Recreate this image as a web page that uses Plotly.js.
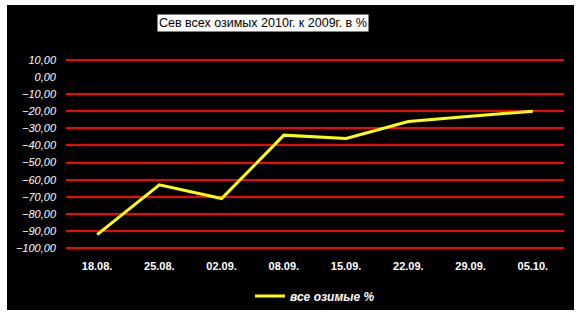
<!DOCTYPE html>
<html><head><meta charset="utf-8">
<script src="https://cdn.plot.ly/plotly-3.0.1.min.js"></script>
<style>
html,body{margin:0;padding:0;background:#fff;width:577px;height:315px;overflow:hidden}
#chart{position:absolute;left:7px;top:5px;width:567px;height:305px}
</style></head>
<body><div id="chart"></div>
<script>
const dates = ["18.08.","25.08.","02.09.","08.09.","15.09.","22.09.","29.09.","05.10."];
const values = [-92, -63, -71, -34, -36, -26, -23, -20];
const seriesName = "все озимые %";
const titleText = "Сев всех озимых 2010г. к 2009г. в %";
const yTicks = [10,0,-10,-20,-30,-40,-50,-60,-70,-80,-90,-100];

const trace = {
  x: dates, y: values, type: "scatter", mode: "lines", name: seriesName,
  line: {color: "#ffff00", width: 3}
};
const layout = {
  width: 567, height: 305,
  paper_bgcolor: "#000", plot_bgcolor: "#000",
  margin: {l: 59, r: 10, t: 53, b: 60, autoexpand: false},
  separators: ", ",
  font: {family: "Liberation Sans, Arial, sans-serif", color: "#fff"},
  showlegend: true,
  legend: {orientation: "h", x: 0.5, xanchor: "center", y: -0.24, yanchor: "middle",
    font: {size: 12, color: "#fff", weight: "bold", style: "italic"}, bgcolor: "rgba(0,0,0,0)", itemwidth: 30},
  xaxis: {type: "category", range: [-0.5, 7.5], showgrid: false, zeroline: false, showline: false, ticks: "",
    automargin: false,
    tickfont: {size: 11, color: "#fff", weight: "bold"}, ticklabelstandoff: 8, fixedrange: true},
  yaxis: {range: [-101, 11], tickvals: yTicks, tickformat: ".2f", automargin: false,
    showgrid: true, gridcolor: "#ff0000", gridwidth: 2,
    zeroline: true, zerolinecolor: "#000", zerolinewidth: 4, showline: false, ticks: "",
    tickfont: {size: 11, color: "#fff", style: "italic"}, ticklabelstandoff: 9, fixedrange: true},
  annotations: [{
    text: titleText, xref: "paper", yref: "paper", x: 0.395, y: 1.18, xanchor: "center", yanchor: "middle",
    showarrow: false, bgcolor: "#fff", font: {size: 12.5, color: "#000"}, borderpad: 1
  }]
};
Plotly.newPlot("chart", [trace], layout, {displayModeBar: false, staticPlot: true});
</script></body></html>
